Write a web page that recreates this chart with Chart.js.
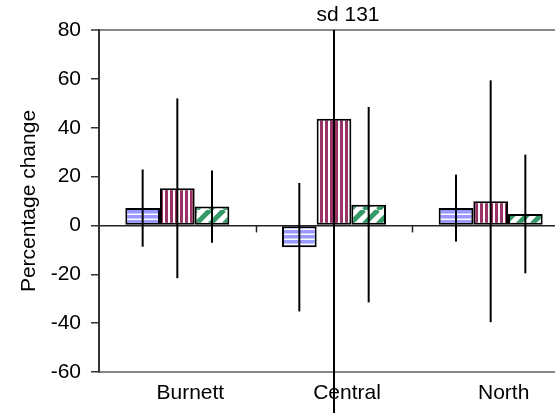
<!DOCTYPE html>
<html>
<head>
<meta charset="utf-8">
<script src="https://cdn.jsdelivr.net/npm/chart.js@4"></script>
<style>
  html, body { margin: 0; padding: 0; background: #fff; overflow: hidden; }
  #wrap { width: 569px; height: 413px; }
</style>
</head>
<body>
<div id="wrap"><canvas id="myChart" width="569" height="413"></canvas></div>
<script>
// values (means and standard deviations)
const regions = ['Burnett', 'Central', 'North'];
const seriesNames = ['Series 1', 'Series 2', 'Series 3'];
const blueMeans = [7.1, -8.9, 7.1];
const blueSd = [15.8, 26.3, 13.7];
const plumMeans = [15.2, 43.7, 9.9];
const plumSd = [36.8, 131, 49.5];
const greenMeans = [7.7, 8.5, 4.7];
const greenSd = [14.8, 40, 24.3];
const yTicks = [-60, -40, -20, 0, 20, 40, 60, 80];

const FONT = "'Liberation Sans', Arial, sans-serif";

function makePattern(kind) {
  const c = document.createElement('canvas');
  const g = c.getContext('2d');
  if (kind === 'horizontal') {
    c.width = 5; c.height = 5;
    g.fillStyle = '#fff'; g.fillRect(0, 0, 5, 5);
    g.fillStyle = '#9999ff'; g.fillRect(0, 0, 5, 3);
    g.fillStyle = '#c8c8ff'; g.fillRect(0, 3, 5, 1);
  } else if (kind === 'vertical') {
    c.width = 5; c.height = 5;
    g.fillStyle = '#fff'; g.fillRect(0, 0, 5, 5);
    g.fillStyle = '#993366'; g.fillRect(0, 0, 3, 5);
  } else {
    const n = 14;
    c.width = n; c.height = n;
    g.fillStyle = '#fff'; g.fillRect(0, 0, n, n);
    g.strokeStyle = '#339966'; g.lineWidth = 5;
    for (let k = -1; k <= 1; k++) {
      g.beginPath();
      g.moveTo(k * n, n);
      g.lineTo(k * n + n, 0);
      g.stroke();
    }
  }
  return g.createPattern(c, 'repeat');
}

// error bars, tick marks on the zero line, and the off-scale note
const extras = {
  id: 'extras',
  beforeDatasetsDraw(chart) {
    const ctx = chart.ctx, x = chart.scales.x, y = chart.scales.y;
    const y0 = y.getPixelForValue(0);
    const step = x.width / regions.length;
    ctx.save();
    ctx.strokeStyle = '#222';
    ctx.lineWidth = 1.5;
    for (let i = 1; i <= regions.length; i++) {
      const px = Math.round(x.left + step * i) + 0.5;
      ctx.beginPath();
      ctx.moveTo(px, y0);
      ctx.lineTo(px, y0 + 7);
      ctx.stroke();
    }
    ctx.restore();
  },
  afterDatasetsDraw(chart) {
    const ctx = chart.ctx, y = chart.scales.y;
    ctx.save();
    ctx.strokeStyle = '#000';
    ctx.lineWidth = 2;
    chart.data.datasets.forEach((ds, d) => {
      chart.getDatasetMeta(d).data.forEach((bar, i) => {
        const m = ds.data[i], s = ds.sd[i];
        const top = Math.min(m + s, y.max);
        ctx.beginPath();
        ctx.moveTo(bar.x, y.getPixelForValue(top));
        ctx.lineTo(bar.x, y.getPixelForValue(m - s));
        ctx.stroke();
        if (m + s > y.max) {
          ctx.fillStyle = '#000';
          ctx.font = '21px ' + FONT;
          ctx.textAlign = 'center';
          ctx.textBaseline = 'alphabetic';
          ctx.fillText('sd ' + s, bar.x + 14, y.top - 9);
        }
      });
    });
    ctx.restore();
  }
};

function createChart() {
  const ctx = document.getElementById('myChart').getContext('2d');

  const data = {
    labels: regions,
    datasets: [
      { label: seriesNames[0], data: blueMeans, sd: blueSd, backgroundColor: makePattern('horizontal') },
      { label: seriesNames[1], data: plumMeans, sd: plumSd, backgroundColor: makePattern('vertical') },
      { label: seriesNames[2], data: greenMeans, sd: greenSd, backgroundColor: makePattern('diagonal') }
    ]
  };
  data.datasets.forEach(ds => {
    ds.borderColor = '#000';
    ds.borderWidth = 2;
    ds.borderSkipped = false;
    ds.categoryPercentage = 0.664;
    ds.barPercentage = 1.0;
  });

  const options = {
    responsive: false,
    animation: false,
    devicePixelRatio: 1,
    layout: { padding: { top: 30, right: 0, bottom: 0, left: 0 } },
    plugins: { legend: { display: false }, tooltip: { enabled: false } },
    scales: {
      x: {
        grid: { display: false, drawTicks: false },
        border: { color: '#888', width: 2 },
        ticks: { color: '#000', font: { family: FONT, size: 21 }, padding: 9, labelOffset: 13, maxRotation: 0 },
        afterFit: s => { s.height = 41; }
      },
      y: {
        min: -60,
        max: 80,
        afterBuildTicks: s => { s.ticks = yTicks.map(v => ({ value: v })); },
        grid: {
          drawOnChartArea: true,
          color: c => c.tick.value === 80 ? '#888' : (c.tick.value === 0 ? '#222' : 'rgba(0,0,0,0)'),
          lineWidth: c => c.tick.value === 80 ? 2 : 1.5,
          tickColor: '#333',
          tickLength: 8,
          tickWidth: 1.5
        },
        border: { color: '#333', width: 2 },
        ticks: { color: '#000', font: { family: FONT, size: 21 }, padding: 10 },
        title: { display: true, text: 'Percentage change', color: '#000', font: { family: FONT, size: 21 }, padding: { top: 17, bottom: 0 } },
        afterFit: s => { s.width = 99; }
      }
    }
  };

  new Chart(ctx, { type: 'bar', data: data, options: options, plugins: [extras] });
}

createChart();
</script>
</body>
</html>
